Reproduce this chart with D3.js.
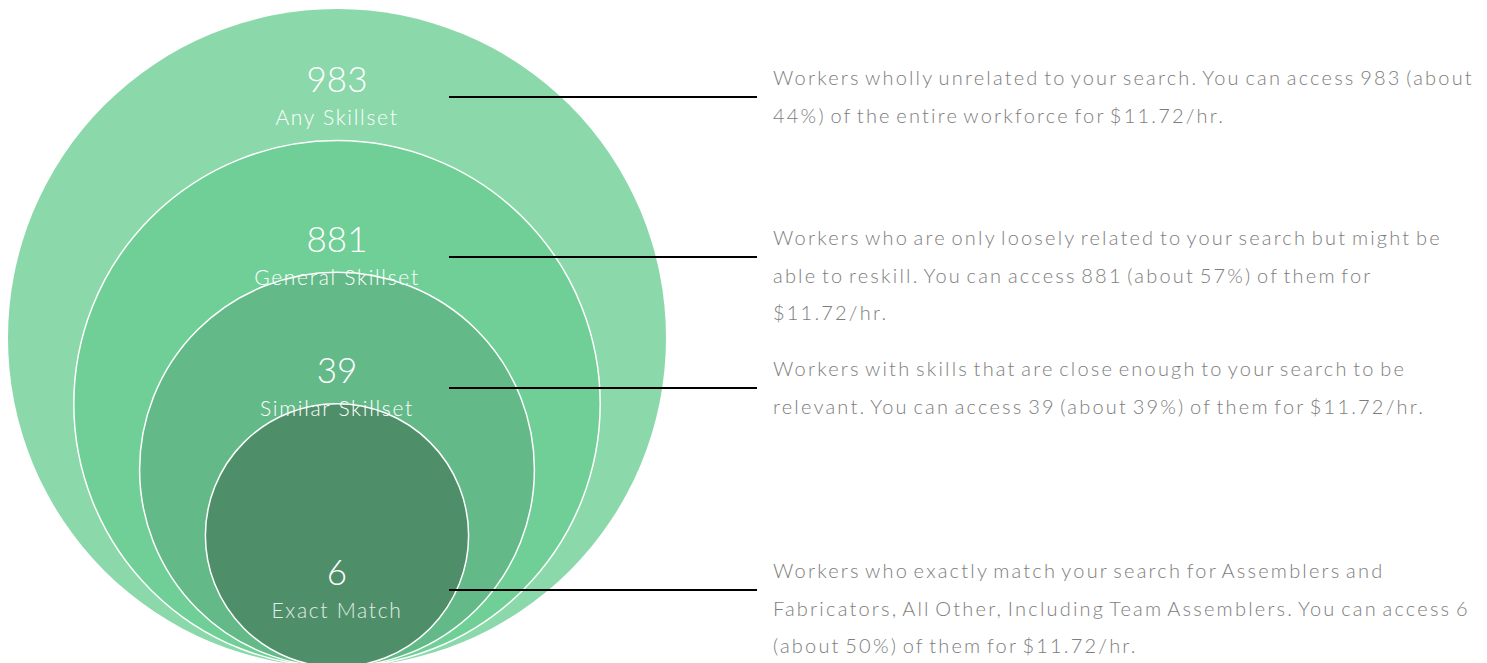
<!DOCTYPE html>
<html>
<head>
<meta charset="utf-8">
<script src="https://cdn.jsdelivr.net/npm/d3@7"></script>
<style>
  html, body { margin: 0; padding: 0; background: #fff; }
  svg { display: block; }
</style>
</head>
<body>
<div id="chart"></div>
<script>
// data, outermost ring first
const counts = [983, 881, 39, 6];
const tiers = ["Any Skillset", "General Skillset", "Similar Skillset", "Exact Match"];
const descriptions = [
    ["Workers wholly unrelated to your search. You can access 983 (about",
     "44%) of the entire workforce for $11.72/hr."],
    ["Workers who are only loosely related to your search but might be",
     "able to reskill. You can access 881 (about 57%) of them for",
     "$11.72/hr."],
    ["Workers with skills that are close enough to your search to be",
     "relevant. You can access 39 (about 39%) of them for $11.72/hr."],
    ["Workers who exactly match your search for Assemblers and",
     "Fabricators, All Other, Including Team Assemblers. You can access 6",
     "(about 50%) of them for $11.72/hr."]
];

const W = 1487, H = 663;
const layout = {
    cx: 337,
    bottom: 667,
    outerR: 329,
    anchorY: [97, 257, 388, 590],
    lineX0: 449,
    lineX1: 757,
    textX: 773,
    lineH: 37.5,
};
const colors = ["#8bd8ab", "#6fcf97", "#63ba88", "#4e8f6a"];

const svg = d3.select("#chart").append("svg")
    .attr("width", W)
    .attr("height", H);

// rings shrink in equal steps (100%, 80%, 60%, 40%), all touching at the bottom
const rScale = d3.scaleLinear()
    .domain([0, counts.length + 1])
    .range([layout.outerR, 0]);

const rings = svg.append("g");
rings.selectAll("circle")
    .data(counts)
    .join("circle")
    .attr("cx", layout.cx)
    .attr("cy", (d, i) => layout.bottom - rScale(i))
    .attr("r", (d, i) => rScale(i))
    .attr("fill", (d, i) => colors[i])
    .attr("stroke", (d, i) => i === 0 ? "none" : "#fff")
    .attr("stroke-width", 1.5);

const labels = svg.append("g")
    .attr("font-family", "Lato, 'Open Sans', sans-serif")
    .attr("font-weight", 300)
    .attr("text-anchor", "middle");

labels.selectAll("text.count")
    .data(counts)
    .join("text")
    .attr("class", "count")
    .attr("x", layout.cx)
    .attr("y", (d, i) => layout.anchorY[i] - 5)
    .attr("font-size", "35px")
    .attr("fill", "#fff")
    .text(d => d);

labels.selectAll("text.tier")
    .data(tiers)
    .join("text")
    .attr("class", "tier")
    .attr("x", layout.cx)
    .attr("y", (d, i) => layout.anchorY[i] + 28)
    .attr("font-size", "21px")
    .attr("fill", (d, i) => i === 3 ? "#e4ece7" : "#fff")
    .attr("letter-spacing", "1.7px")
    .text(d => d);

// leader lines
svg.append("g").selectAll("line")
    .data(layout.anchorY)
    .join("line")
    .attr("x1", layout.lineX0)
    .attr("x2", layout.lineX1)
    .attr("y1", d => d)
    .attr("y2", d => d)
    .attr("stroke", "#000")
    .attr("stroke-width", 1.8);

// descriptions
const desc = svg.append("g")
    .attr("font-family", "Lato, 'Open Sans', sans-serif")
    .attr("font-weight", 300)
    .attr("font-size", "20px")
    .attr("fill", "#7d7d7d")
    .attr("letter-spacing", "2.2px")
    .attr("word-spacing", "-3px");

desc.selectAll("text")
    .data(descriptions)
    .join("text")
    .attr("x", layout.textX)
    .attr("y", (d, i) => layout.anchorY[i] - 12)
    .selectAll("tspan")
    .data(d => d)
    .join("tspan")
    .attr("x", layout.textX)
    .attr("dy", (d, j) => j === 0 ? 0 : layout.lineH)
    .text(d => d);
</script>
</body>
</html>
